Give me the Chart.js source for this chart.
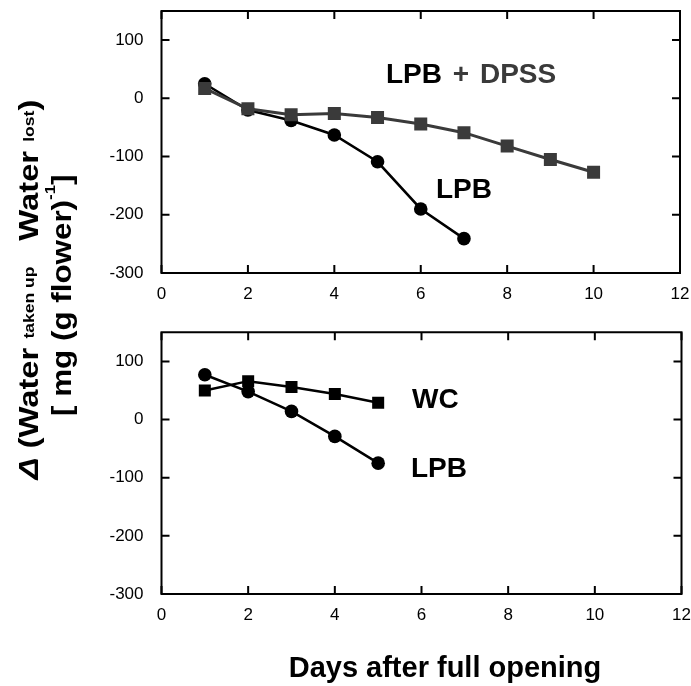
<!DOCTYPE html>
<html>
<head>
<meta charset="utf-8">
<script src="https://cdn.jsdelivr.net/npm/chart.js@4"></script>
<style>
  html, body { margin: 0; padding: 0; background: #fff; }
  body { width: 691px; height: 686px; position: relative; overflow: hidden; font-family: "Liberation Sans", Arial, sans-serif; }
  #c1 { position: absolute; left: 0; top: 0; width: 691px; height: 315px; }
  #c2 { position: absolute; left: 0; top: 315px; width: 691px; height: 371px; }
  .ytitle { position: absolute; writing-mode: vertical-rl; font-weight: bold; font-size: 28px; color: #000; white-space: nowrap; line-height: 1; text-align: center; }
  .small { font-size: 15px; }
  .sup { font-size: 15px; vertical-align: 12px; }
  .lbl { position: absolute; font-weight: bold; font-size: 28px; white-space: nowrap; line-height: 1; }
  #xtitle { position: absolute; left: 260px; width: 370px; top: 653px; text-align: center; font-weight: bold; font-size: 29px; line-height: 29px; white-space: nowrap; }
</style>
</head>
<body>
<canvas id="c1" width="691" height="315"></canvas>
<canvas id="c2" width="691" height="371"></canvas>

<div class="ytitle" id="yt1" style="left:15px; top:97px; height:386px; transform: rotate(180deg) scaleY(1.17);"><i>&Delta;</i> (Water <span class="small">taken up</span><span style="display:inline-block;height:22px"></span>Water <span class="small">lost</span>)</div>
<div class="ytitle" id="yt2" style="left:42px; top:175px; height:240px; transform: rotate(180deg) scaleY(1.12);">[ mg (g flower)<span class="sup">-1</span>]</div>

<div class="lbl" style="left:386px; top:60px; word-spacing:3px;"><span style="color:#000">LPB</span> <span style="color:#3a3a3a">+ DPSS</span></div>
<div class="lbl" style="left:436px; top:175px; color:#000">LPB</div>
<div class="lbl" style="left:412px; top:385px; color:#000">WC</div>
<div class="lbl" style="left:411px; top:454px; color:#000">LPB</div>
<div id="xtitle"></div>

<script>
// ---- data ----
const days = [1, 2, 3, 4, 5, 6, 7, 8, 9, 10];
const topLPB = [25, -20, -38, -63, -109, -190, -241];
const topLPBDPSS = [17, -18, -28, -26, -33, -44, -59, -82, -105, -127];
const botLPB = [77, 48, 14, -29, -75];
const botWC = [50, 66, 56, 44, 29];
const xTicks = [0, 2, 4, 6, 8, 10, 12];
const yTicks = [100, 0, -100, -200, -300];
const xTitle = "Days after full opening";

document.getElementById('xtitle').textContent = xTitle;

const GRAY = '#3a3a3a';
const tickFont = { family: '"Liberation Sans", Arial, sans-serif', size: 17 };

function pts(xs, ys) { return ys.map((v, i) => ({ x: xs[i], y: v })); }

const framePlugin = {
  id: 'frame',
  afterDatasetsDraw(chart) {
    const { ctx, chartArea: a, scales } = chart;
    const xs = scales.x, ys = scales.y;
    ctx.save();
    ctx.strokeStyle = '#000';
    ctx.lineWidth = 2;
    ctx.beginPath();
    ctx.rect(a.left, a.top, a.right - a.left, a.bottom - a.top);
    ctx.stroke();
    const L = 8;
    ctx.beginPath();
    yTicks.forEach(v => {
      const y = ys.getPixelForValue(v);
      ctx.moveTo(a.left, y); ctx.lineTo(a.left + L, y);
      ctx.moveTo(a.right, y); ctx.lineTo(a.right - L, y);
    });
    xTicks.forEach(v => {
      const x = xs.getPixelForValue(v);
      ctx.moveTo(x, a.bottom); ctx.lineTo(x, a.bottom - L);
      ctx.moveTo(x, a.top); ctx.lineTo(x, a.top + L);
    });
    ctx.stroke();
    ctx.restore();
  }
};

function noPad(s) { s.paddingTop = 0; s.paddingBottom = 0; s.paddingLeft = 0; s.paddingRight = 0; }

function makeOptions(pad, xAxisH) {
  return {
    responsive: false,
    maintainAspectRatio: false,
    animation: false,
    devicePixelRatio: 1,
    layout: { padding: pad },
    plugins: { legend: { display: false }, tooltip: { enabled: false } },
    scales: {
      x: {
        type: 'linear', min: 0, max: 12,
        afterBuildTicks: s => { s.ticks = xTicks.map(v => ({ value: v })); },
        afterFit: s => { s.height = xAxisH; noPad(s); },
        grid: { display: false, drawTicks: false },
        border: { display: false },
        ticks: { color: '#000', font: tickFont, padding: 11, maxRotation: 0, autoSkip: false }
      },
      y: {
        type: 'linear', min: -300, max: 150,
        afterBuildTicks: s => { s.ticks = yTicks.map(v => ({ value: v })); },
        afterFit: s => { s.width = 161.5; noPad(s); },
        grid: { display: false, drawTicks: false },
        border: { display: false },
        ticks: { color: '#000', font: tickFont, padding: 18 }
      }
    }
  };
}

new Chart(document.getElementById('c1'), {
  type: 'line',
  data: {
    datasets: [
      { label: 'LPB + DPSS', data: pts(days, topLPBDPSS), borderColor: GRAY, backgroundColor: GRAY,
        borderWidth: 3, pointStyle: 'rect', pointRadius: 9.2, pointBorderWidth: 0, pointBackgroundColor: GRAY, tension: 0 },
      { label: 'LPB', data: pts(days, topLPB), borderColor: '#000', backgroundColor: '#000',
        borderWidth: 2.5, pointStyle: 'circle', pointRadius: 6.8, pointBorderWidth: 0, pointBackgroundColor: '#000', tension: 0 }
    ]
  },
  options: makeOptions({ left: 0, top: 11, right: 11, bottom: 0 }, 42),
  plugins: [framePlugin]
});

new Chart(document.getElementById('c2'), {
  type: 'line',
  data: {
    datasets: [
      { label: 'WC', data: pts(days, botWC), borderColor: '#000', backgroundColor: '#000',
        borderWidth: 2.5, pointStyle: 'rect', pointRadius: 8.5, pointBorderWidth: 0, pointBackgroundColor: '#000', tension: 0 },
      { label: 'LPB', data: pts(days, botLPB), borderColor: '#000', backgroundColor: '#000',
        borderWidth: 2.5, pointStyle: 'circle', pointRadius: 6.8, pointBorderWidth: 0, pointBackgroundColor: '#000', tension: 0 }
    ]
  },
  options: makeOptions({ left: 0, top: 17.3, right: 9.5, bottom: 0 }, 92),
  plugins: [framePlugin]
});
</script>
</body>
</html>
